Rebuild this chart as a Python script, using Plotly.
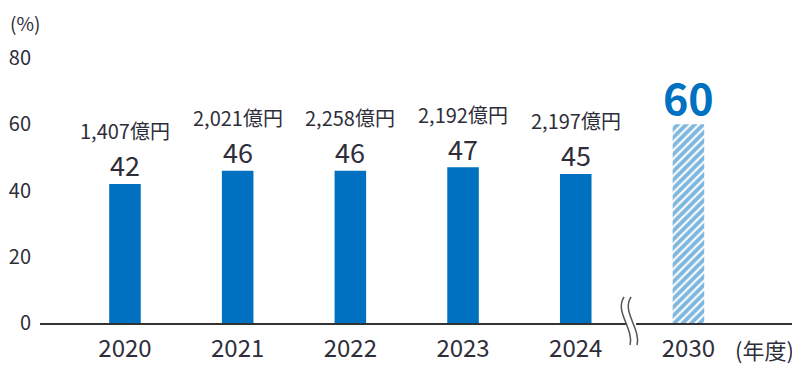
import plotly.graph_objects as go

years = ["2020", "2021", "2022", "2023", "2024", "2030"]
ratios = [42, 46, 46, 47, 45, 60]
amounts = ["1,407億円", "2,021億円", "2,258億円", "2,192億円", "2,197億円", ""]
y_ticks = [0, 20, 40, 60, 80]

BLUE = "#0070C0"
TEXT = "#2e2e3a"
FONT = "Noto Sans CJK JP"

xs = list(range(len(years)))
n_actual = 5

fig = go.Figure()
fig.add_trace(go.Bar(
    x=xs[:n_actual], y=ratios[:n_actual], width=0.28,
    marker=dict(color=BLUE, line=dict(width=0)),
    hoverinfo="skip",
))
fig.add_trace(go.Bar(
    x=xs[n_actual:], y=ratios[n_actual:], width=0.28,
    marker=dict(color="white", line=dict(width=0),
                pattern=dict(shape="/", fgcolor=BLUE, bgcolor="white",
                             size=6, solidity=0.65)),
    hoverinfo="skip",
))

ann = []
for i in range(n_actual):
    ann.append(dict(x=xs[i], y=ratios[i], text=str(ratios[i]), showarrow=False,
                    xref="x", yref="y", yanchor="middle", yshift=19,
                    font=dict(family=FONT, size=27, color=TEXT)))
    ann.append(dict(x=xs[i], y=ratios[i], text=amounts[i], showarrow=False,
                    xref="x", yref="y", yanchor="middle", yshift=53,
                    font=dict(family=FONT, size=20, color=TEXT)))
ann.append(dict(x=xs[5], y=ratios[5], text="<b>60</b>", showarrow=False,
                xref="x", yref="y", yanchor="middle", yshift=28,
                font=dict(family=FONT, size=43, color=BLUE)))
ann.append(dict(x=0, y=1, text="(%)", showarrow=False, xref="paper", yref="paper",
                xanchor="left", yanchor="middle", xshift=-32, yshift=36,
                font=dict(family=FONT, size=19, color=TEXT)))
ann.append(dict(x=0.912, y=0, text="(年度)", showarrow=False, xref="paper", yref="paper",
                xanchor="left", yanchor="middle", yshift=-26,
                font=dict(family=FONT, size=22, color=TEXT)))

# axis break decoration between 2024 and 2030
bx = 4.5
u = 1 / 112.7  # one pixel in x data units
p = 1 / 265    # one pixel in paper units
def pt(dx, dy):
    return f"{bx + dx * u},{dy * p}"
shapes = [
    dict(type="rect", xref="x", yref="paper", x0=bx - 5 * u, x1=bx + 4 * u,
         y0=-3 * p, y1=3 * p, fillcolor="white", line=dict(width=0), layer="above"),
]
for off in (-4, 3):
    path = ("M " + pt(off - 4, 26) + " C " + pt(off - 14, 12) + " " + pt(off + 6, -6)
            + " " + pt(off + 2, -22))
    shapes.append(dict(type="path", xref="x", yref="paper", path=path,
                       line=dict(color="#555555", width=1.5), layer="above"))

# page body has an 8px margin, so the figure is sized/offset to compensate
fig.update_layout(
    width=792, height=370,
    margin=dict(l=32, r=0, t=50, b=55),
    paper_bgcolor="white", plot_bgcolor="white",
    showlegend=False, barmode="overlay",
    annotations=ann, shapes=shapes,
    xaxis=dict(range=[-0.754, 5.99], tickmode="array", tickvals=xs, ticktext=years,
               showgrid=False, zeroline=False, showline=True, linecolor="#333333",
               linewidth=1.5, ticks="", ticklabelstandoff=3,
               tickfont=dict(family=FONT, size=24, color=TEXT)),
    yaxis=dict(range=[0, 80], tickvals=y_ticks, showgrid=False, zeroline=False,
               showline=False, ticks="", ticklabelstandoff=8,
               tickfont=dict(family=FONT, size=20, color=TEXT)),
)
fig.write_html("out.html")
